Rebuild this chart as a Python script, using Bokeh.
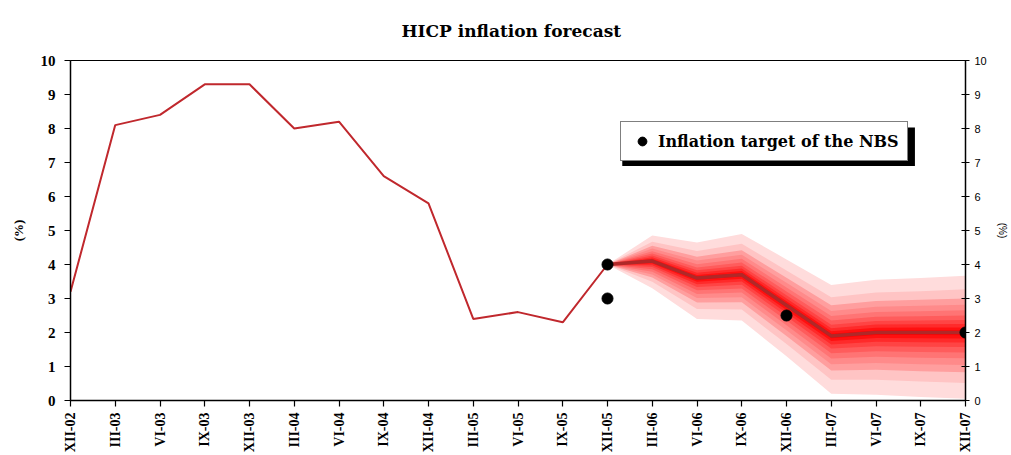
import math
from bokeh.plotting import figure
from bokeh.models import (Range1d, LinearAxis, FixedTicker, Legend, LegendItem,
                          BoxAnnotation)
from bokeh.embed import file_html
from bokeh.resources import INLINE

# ---------------- data ----------------
quarters = ["XII-02", "III-03", "VI-03", "IX-03", "XII-03", "III-04", "VI-04",
            "IX-04", "XII-04", "III-05", "VI-05", "IX-05", "XII-05", "III-06",
            "VI-06", "IX-06", "XII-06", "III-07", "VI-07", "IX-07", "XII-07"]

hist_quarters = quarters[:13]
hist_values = [3.2, 8.1, 8.4, 9.3, 9.3, 8.0, 8.2, 6.6, 5.8, 2.4, 2.6, 2.3, 4.0]

fc_quarters = quarters[12:]
fc_central = [4.0, 4.1, 3.6, 3.7, 2.8, 1.9, 2.0, 2.0, 2.0]
fc_upper = [4.0, 4.85, 4.65, 4.9, 4.15, 3.4, 3.55, 3.6, 3.67]
fc_lower = [4.0, 3.3, 2.4, 2.35, 1.3, 0.2, 0.17, 0.1, 0.05]
# share of the outer interval covered by each fan band (outer -> inner)
band_shares = [1.0, 0.76, 0.6, 0.49, 0.39, 0.30, 0.22, 0.15, 0.09, 0.04]
band_colors = ["#FFDCDC", "#FFC4C4", "#FF9E9E", "#FF8A8A", "#FF7474",
               "#FF5C5C", "#FF4444", "#FF2A2A", "#FF1010", "#FF0000"]

target_quarters = ["XII-05", "XII-05", "XII-06", "XII-07"]
target_values = [4.0, 3.0, 2.5, 2.0]

y_ticks = [0, 1, 2, 3, 4, 5, 6, 7, 8, 9, 10]

# ---------------- figure ----------------
idx = {q: i for i, q in enumerate(quarters)}
hx = [idx[q] for q in hist_quarters]
fx = [idx[q] for q in fc_quarters]
tx = [idx[q] for q in target_quarters]

p = figure(width=1010, height=455, output_backend="svg", toolbar_location=None,
           x_range=Range1d(0, len(quarters) - 1), y_range=Range1d(0, 10),
           min_border_left=70, min_border_top=60, min_border_right=42,
           min_border_bottom=54)
p.outline_line_color = "black"
p.outline_line_width = 1
p.grid.visible = False
p.background_fill_color = "white"

p.title.text = "HICP inflation forecast"
p.title.align = "left"
p.title.offset = 331
p.title.vertical_align = "top"
p.title.text_font = "DejaVu Serif"
p.title.text_font_style = "bold"
p.title.text_font_size = "17px"
p.title.text_color = "black"
p.title.standoff = 36

# fan
for share, col in zip(band_shares, band_colors):
    up = [c + share * (u - c) for c, u in zip(fc_central, fc_upper)]
    lo = [c - share * (c - l) for c, l in zip(fc_central, fc_lower)]
    p.varea(x=fx, y1=lo, y2=up, fill_color=col, fill_alpha=1.0)

p.line(fx, fc_central, line_color="#B02828", line_width=3.5)
p.line(hx, hist_values, line_color="#C0282D", line_width=2)

targets = p.scatter(tx, target_values, size=11, color="black")

# x axis
p.xaxis.ticker = FixedTicker(ticks=list(range(len(quarters))))
p.xaxis.major_label_overrides = {i: q for i, q in enumerate(quarters)}
p.xaxis.major_label_orientation = math.pi / 2
p.xaxis.major_label_text_font = "Liberation Serif"
p.xaxis.major_label_text_font_style = "bold"
p.xaxis.major_label_text_font_size = "14px"
p.xaxis.major_label_text_color = "black"
p.xaxis.major_label_standoff = 6
p.xaxis.major_tick_in = 0
p.xaxis.major_tick_out = 6
p.xaxis.minor_tick_line_color = None
p.xaxis.axis_line_width = 1.5
p.xaxis.major_tick_line_width = 1.2

# left axis
p.yaxis.ticker = FixedTicker(ticks=y_ticks)
p.yaxis.major_tick_in = 0
p.yaxis.major_tick_out = 6
p.yaxis.minor_tick_line_color = None
p.yaxis.major_label_standoff = 9
p.yaxis.major_label_text_font = "Liberation Serif"
p.yaxis.major_label_text_font_style = "bold"
p.yaxis.major_label_text_font_size = "15px"
p.yaxis.major_label_text_color = "black"
p.yaxis.axis_label = "(%)"
p.yaxis.axis_label_text_font = "Liberation Serif"
p.yaxis.axis_label_text_font_style = "bold"
p.yaxis.axis_label_text_font_size = "13px"
p.yaxis.axis_label_text_color = "black"
p.yaxis.axis_label_standoff = 12
p.yaxis.axis_line_width = 1.5
p.yaxis.major_tick_line_width = 1.2

# right axis
p.extra_y_ranges = {"right": Range1d(0, 10)}
ra = LinearAxis(y_range_name="right", ticker=FixedTicker(ticks=y_ticks))
ra.major_tick_in = 4
ra.major_tick_out = 4
ra.minor_tick_line_color = None
ra.major_label_standoff = 5
ra.major_label_text_font = "Liberation Sans"
ra.major_label_text_font_style = "normal"
ra.major_label_text_font_size = "11px"
ra.major_label_text_color = "black"
ra.axis_label = "(%)"
ra.axis_label_text_font = "Liberation Sans"
ra.axis_label_text_font_style = "normal"
ra.axis_label_text_font_size = "10px"
ra.axis_label_text_color = "black"
ra.axis_label_standoff = 7
ra.axis_line_width = 1.5
ra.major_tick_line_width = 1.2
p.add_layout(ra, "right")

# legend shadow (drawn behind the legend box)
p.add_layout(BoxAnnotation(left=12.33, right=18.87, top=8.03, bottom=6.9,
                           fill_color="black", fill_alpha=1, line_color=None))

legend = Legend(items=[LegendItem(label="Inflation target of the NBS", renderers=[targets])],
                location=(550, 239), background_fill_color="white",
                background_fill_alpha=1, border_line_color="black",
                border_line_width=1, label_text_color="black",
                padding=8, glyph_width=26, glyph_height=22, label_height=22,
                label_standoff=3, label_text_font="DejaVu Serif",
                label_text_font_style="bold", label_text_font_size="16px",
                spacing=0, margin=0)
p.add_layout(legend, "center")

open("out.html", "w").write(file_html(p, INLINE))
